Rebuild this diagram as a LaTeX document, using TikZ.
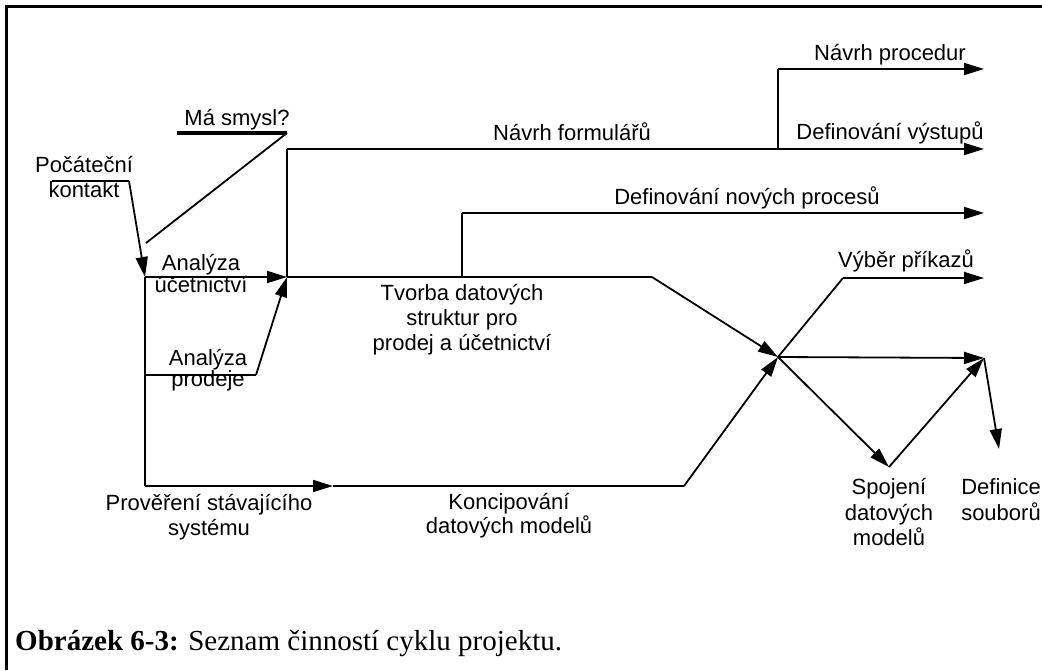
\documentclass[tikz,border=0pt]{standalone}
\usepackage{fontspec}
\setmainfont{Liberation Sans}
\newfontfamily\captionfont{Liberation Serif}
\usetikzlibrary{arrows.meta}

\begin{document}
\begin{tikzpicture}[x=1pt,y=-1pt,
  link/.style={line width=1.8pt},
  flow/.style={line width=1.8pt, -{Triangle[length=20pt,width=12pt]}},
  heavy/.style={line width=4pt},
  lbl/.style={font=\fontsize{22}{25}\selectfont, align=center, inner sep=0pt, anchor=base},
  frame/.style={line width=3pt}
]
\useasboundingbox (0,0) rectangle (1042,670);

% frame (top and left edges)
\coordinate (fb) at (6,670);
\coordinate (fc) at (6,6);
\coordinate (fr) at (1042,6);
\draw[frame] (fb) -- (fc) -- (fr);

% junction points of the activity network
\coordinate (k0) at (52,181);
\coordinate (k1) at (129,181);
\coordinate (ms0) at (177,133);
\coordinate (ms1) at (287,133);
\coordinate (ms2) at (146,243);
\coordinate (A) at (145,277);
\coordinate (P) at (145,375);
\coordinate (S) at (145,486);
\coordinate (Pd) at (256,375);
\coordinate (B) at (287,277);
\coordinate (F0) at (287,149);
\coordinate (F1) at (984,149);
\coordinate (R0) at (778,149);
\coordinate (R1) at (778,69);
\coordinate (R2) at (984,69);
\coordinate (N0) at (462,277);
\coordinate (N1) at (462,213);
\coordinate (N2) at (984,213);
\coordinate (T1) at (652,277);
\coordinate (H) at (778,357);
\coordinate (S1) at (333,486);
\coordinate (S2) at (684,486);
\coordinate (V1) at (843,278);
\coordinate (V2) at (984,278);
\coordinate (J) at (984,358);
\coordinate (Sp) at (889,467);
\coordinate (D) at (999,449);

% connectors
\draw[link] (k0) -- (k1);
\draw[flow] (k1) -- (A);
\draw[heavy] (ms0) -- (ms1);
\draw[link] (ms1) -- (ms2);
\draw[link] (A) -- (S);
\draw[flow] (A) -- (B);
\draw[link] (P) -- (Pd);
\draw[flow] (Pd) -- (B);
\draw[flow] (S) -- (S1);
\draw[link] (S1) -- (S2);
\draw[flow] (S2) -- (H);
\draw[link] (B) -- (F0);
\draw[flow] (F0) -- (F1);
\draw[link] (R0) -- (R1);
\draw[flow] (R1) -- (R2);
\draw[link] (B) -- (T1);
\draw[flow] (T1) -- (H);
\draw[link] (N0) -- (N1);
\draw[flow] (N1) -- (N2);
\draw[link] (H) -- (V1);
\draw[flow] (V1) -- (V2);
\draw[flow] (H) -- (J);
\draw[flow] (H) -- (Sp);
\draw[flow] (Sp) -- (J);
\draw[flow] (J) -- (D);

% activity labels (base anchor sits on the last line)
\node[lbl] (lms) at (237,125) {Má smysl?};
\node[lbl] (lpk) at (84,197) {Počáteční\\kontakt};
\node[lbl] (lau) at (201,292) {Analýza\\[-3pt]účetnictví};
\node[lbl] (lap) at (208,386) {Analýza\\[-4pt]prodeje};
\node[lbl] (lps) at (209,535) {Prověření stávajícího\\systému};
\node[lbl] (ltd) at (462,350) {Tvorba datových\\struktur pro\\prodej a účetnictví};
\node[lbl] (lkd) at (509,533) {Koncipování\\[-1pt]datových modelů};
\node[lbl] (lnf) at (572,140) {Návrh formulářů};
\node[lbl] (lnp) at (890,60) {Návrh procedur};
\node[lbl] (ldv) at (890,139) {Definování výstupů};
\node[lbl] (ldn) at (747,204) {Definování nových procesů};
\node[lbl] (lvp) at (906,267) {Výběr příkazů};
\node[lbl] (lsd) at (889,545) {Spojení\\[1pt]datových\\modelů};
\node[lbl] (lds) at (1001,520) {Definice\\[1pt]souborů};

% caption
\node[anchor=base west, inner sep=0pt, font=\captionfont\fontsize{29}{33}\selectfont] (cap) at (15,650)
  {\textbf{Obrázek 6-3:} Seznam činností cyklu projektu.};
\end{tikzpicture}
\end{document}
